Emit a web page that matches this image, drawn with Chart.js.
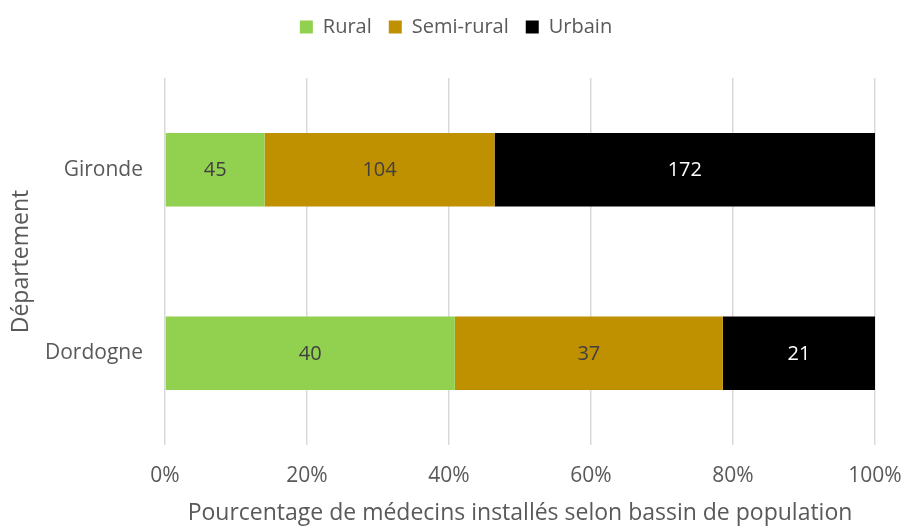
<!DOCTYPE html>
<html><head><meta charset="utf-8">
<script src="https://cdn.jsdelivr.net/npm/chart.js@4"></script>
<style>html,body{margin:0;padding:0;background:#fff}#c{display:block}</style>
</head><body>
<canvas id="c" width="906" height="527"></canvas>
<script>
const categories = ['Gironde', 'Dordogne'];
const seriesNames = ['Rural', 'Semi-rural', 'Urbain'];
const rural = [45, 40];
const semiRural = [104, 37];
const urbain = [172, 21];
const xTicks = [0, 20, 40, 60, 80, 100];
const colors = ['#92D050', '#BF9000', '#000000'];
const labelColors = ['#404040', '#404040', '#FFFFFF'];

const counts = [rural, semiRural, urbain];
const totals = categories.map((_, i) => counts.reduce((s, a) => s + a[i], 0));

Chart.defaults.font.family = '"Open Sans", sans-serif';
Chart.defaults.color = '#595959';

const legendHeight = {
  id: 'legendHeight',
  beforeInit(chart) {
    const orig = chart.legend.fit;
    chart.legend.fit = function () { orig.call(this); this.height = 78; };
  },
  afterLayout(chart) {
    const lg = chart.legend;
    lg.left = 0; lg.right = 912; lg.width = 912;
  }
};
const barLabels = {
  id: 'barLabels',
  afterDatasetsDraw(chart) {
    const ctx = chart.ctx;
    ctx.save();
    ctx.font = '20px "Open Sans", sans-serif';
    ctx.textAlign = 'center';
    ctx.textBaseline = 'middle';
    chart.data.datasets.forEach((ds, di) => {
      chart.getDatasetMeta(di).data.forEach((el, i) => {
        const p = el.getCenterPoint();
        ctx.fillStyle = labelColors[di];
        ctx.fillText(String(ds.counts[i]), p.x, p.y + 1);
      });
    });
    ctx.restore();
  }
};

new Chart(document.getElementById('c'), {
  type: 'bar',
  data: {
    labels: categories,
    datasets: seriesNames.map((n, k) => ({
      label: n,
      counts: counts[k],
      data: counts[k].map((v, i) => v / totals[i] * 100),
      backgroundColor: colors[k],
      borderWidth: 0,
      barPercentage: 0.4,
      categoryPercentage: 1
    }))
  },
  options: {
    indexAxis: 'y',
    responsive: false,
    animation: false,
    layout: { padding: { left: 0, right: 31, top: 0, bottom: 0 } },
    plugins: {
      legend: {
        position: 'top',
        labels: { boxWidth: 13, boxHeight: 13, padding: 17, font: { size: 20 }, color: '#595959' }
      },
      tooltip: { enabled: false }
    },
    scales: {
      x: {
        stacked: true, min: 0, max: 100,
        afterBuildTicks(s) { s.ticks = xTicks.map(v => ({ value: v })); },
        afterFit(s) { s.height = 82; s.paddingLeft = 0; s.paddingRight = 0; },
        grid: { color: '#D9D9D9', lineWidth: 1.5, drawTicks: false },
        border: { display: false },
        ticks: { callback: v => v + '%', font: { size: 21 }, padding: 18, color: '#595959', maxRotation: 0 },
        title: { display: true, text: 'Pourcentage de médecins installés selon bassin de population', font: { size: 23 }, color: '#595959', padding: { top: 0, bottom: 0 } }
      },
      y: {
        stacked: true,
        afterFit(s) { s.width = 165; s.paddingTop = 0; s.paddingBottom = 0; },
        grid: { display: false, drawTicks: false },
        border: { display: false },
        ticks: { font: { size: 21 }, padding: 22, color: '#595959' },
        title: { display: true, text: 'Département', font: { size: 23 }, color: '#595959', padding: { top: 8, bottom: 8 } }
      }
    }
  },
  plugins: [legendHeight, barLabels]
});
</script>
</body></html>
